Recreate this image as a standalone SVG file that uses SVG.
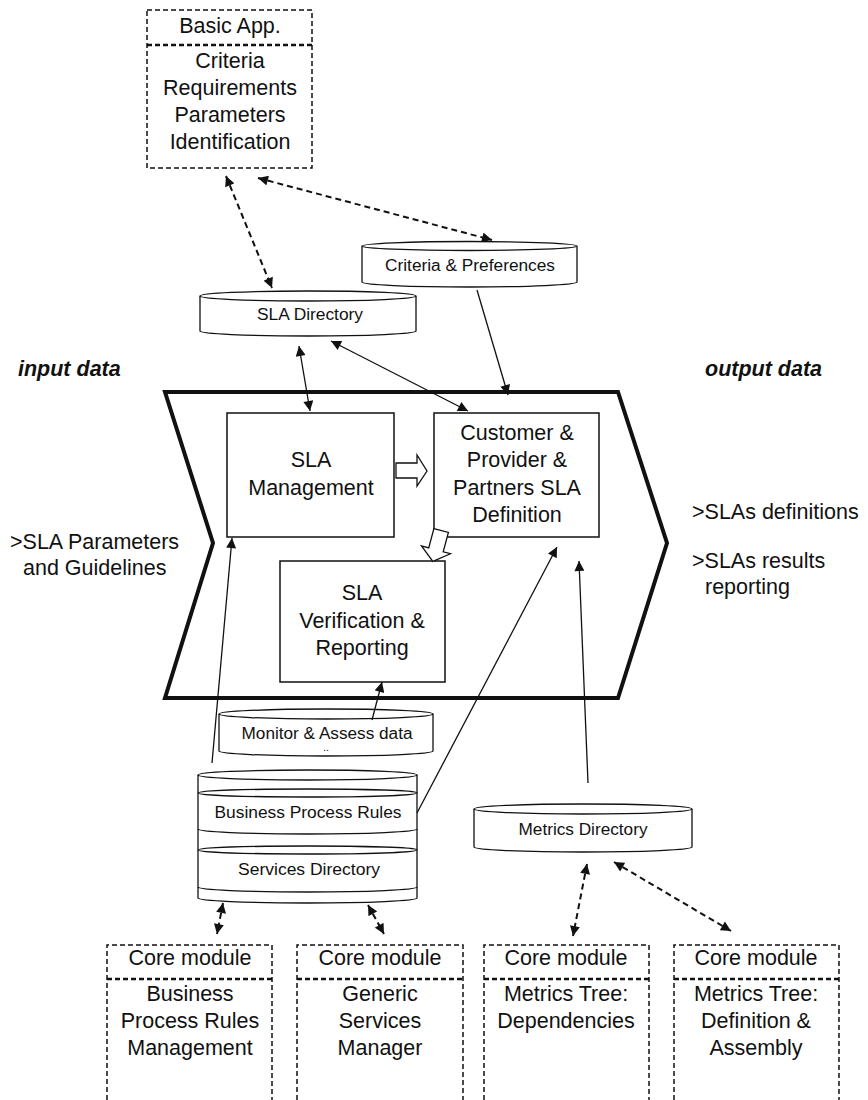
<svg xmlns="http://www.w3.org/2000/svg" width="868" height="1100" viewBox="0 0 868 1100">
  <style>
    .lbl { font-family: "Liberation Sans", Arial, sans-serif; font-size: 21.5px; fill: #111; text-anchor: middle; }
    .side { font-family: "Liberation Sans", Arial, sans-serif; font-size: 21.5px; fill: #111; }
    .head { font-family: "Liberation Sans", Arial, sans-serif; font-size: 21.5px; font-weight: bold; font-style: italic; fill: #111; }
    .db { font-family: "Liberation Sans", Arial, sans-serif; font-size: 16px; fill: #111; text-anchor: middle; }
    .box { fill: #fff; stroke: #111; stroke-width: 1.5; }
    .dash { fill: none; stroke: #111; stroke-width: 1.5; stroke-dasharray: 5 3; }
    .sep { fill: none; stroke: #111; stroke-width: 2.5; stroke-dasharray: 5 3; }
    .cyl { fill: #fff; stroke: #111; stroke-width: 1.3; }
    .wire { fill: none; stroke: #111; stroke-width: 1.3; }
    .dwire { fill: none; stroke: #111; stroke-width: 2; stroke-dasharray: 6 4; }
  </style>
  <defs>
    <marker id="ah" viewBox="0 0 10 10" refX="10" refY="5" markerUnits="userSpaceOnUse" markerWidth="11" markerHeight="10" orient="auto-start-reverse">
      <path d="M0,0 L10,5 L0,10 z" fill="#111"/>
    </marker>
  </defs>

  <rect width="868" height="1100" fill="#fff"/>

  <!-- process chevron -->
  <g id="process">
    <polygon points="165,392 618,392 667,543 618,698 165,698 213,543" fill="none" stroke="#111" stroke-width="4" stroke-linejoin="miter"/>
  </g>

  <!-- side labels -->
  <g id="input-data">
    <text class="head" x="18" y="376">input data</text>
    <text class="side" x="10" y="549">&gt;SLA Parameters</text>
    <text class="side" x="23" y="575">and Guidelines</text>
  </g>
  <g id="output-data">
    <text class="head" x="705" y="376">output data</text>
    <text class="side" x="692" y="519">&gt;SLAs definitions</text>
    <text class="side" x="692" y="568">&gt;SLAs results</text>
    <text class="side" x="705" y="594">reporting</text>
  </g>

  <!-- basic application -->
  <g id="basic-app">
    <rect class="dash" x="147" y="10" width="165" height="158"/>
    <line class="sep" x1="147" y1="45" x2="312" y2="45"/>
    <text class="lbl" x="230" y="33">Basic App.</text>
    <text class="lbl" x="230" y="68">Criteria</text>
    <text class="lbl" x="230" y="95">Requirements</text>
    <text class="lbl" x="230" y="122">Parameters</text>
    <text class="lbl" x="230" y="149">Identification</text>
  </g>

  <!-- repositories -->
  <g id="sla-directory">
    <path class="cyl" d="M200,296 v35 a108,5 0 0 0 216,0 v-35"/>
    <ellipse class="cyl" cx="308" cy="296" rx="108" ry="5"/>
    <text class="db" x="310" y="320" textLength="106" lengthAdjust="spacingAndGlyphs">SLA Directory</text>
  </g>
  <g id="criteria-preferences">
    <path class="cyl" d="M362,246 v36 a107.5,5 0 0 0 215,0 v-36"/>
    <ellipse class="cyl" cx="469.5" cy="246" rx="107.5" ry="4.5"/>
    <text class="db" x="470" y="271" textLength="170" lengthAdjust="spacingAndGlyphs">Criteria &amp; Preferences</text>
  </g>
  <g id="monitor-assess">
    <path class="cyl" d="M219,714 v37 a107,5 0 0 0 214,0 v-37"/>
    <ellipse class="cyl" cx="326" cy="714" rx="107" ry="5"/>
    <text class="db" x="327" y="739" textLength="171" lengthAdjust="spacingAndGlyphs">Monitor &amp; Assess data</text>
    <text class="db" x="326" y="751" style="font-size:11px">..</text>
  </g>
  <g id="process-services-store">
    <path class="cyl" d="M198,775 V898 a109.5,5 0 0 0 219,0 V775"/>
    <ellipse class="cyl" cx="307.5" cy="775" rx="109.5" ry="5"/>
    <ellipse class="cyl" cx="307.5" cy="793" rx="109.5" ry="4"/>
    <path class="wire" d="M198,829 a109.5,5 0 0 0 219,0"/>
    <ellipse class="cyl" cx="307.5" cy="850" rx="109.5" ry="4"/>
    <path class="wire" d="M198,887 a109.5,5 0 0 0 219,0"/>
    <text class="db" x="308" y="818" textLength="187" lengthAdjust="spacingAndGlyphs">Business Process Rules</text>
    <text class="db" x="309" y="875" textLength="142" lengthAdjust="spacingAndGlyphs">Services Directory</text>
  </g>
  <g id="metrics-directory">
    <path class="cyl" d="M474,809 v38 a109,5 0 0 0 218,0 v-38"/>
    <ellipse class="cyl" cx="583" cy="809" rx="109" ry="5"/>
    <text class="db" x="583" y="835" textLength="129" lengthAdjust="spacingAndGlyphs">Metrics Directory</text>
  </g>

  <!-- process steps -->
  <g id="sla-management">
    <rect class="box" x="227" y="413" width="167" height="124"/>
    <text class="lbl" x="311" y="467">SLA</text>
    <text class="lbl" x="311" y="495">Management</text>
  </g>
  <g id="sla-definition">
    <rect class="box" x="434" y="413" width="165" height="124"/>
    <text class="lbl" x="517" y="440">Customer &amp;</text>
    <text class="lbl" x="517" y="467">Provider &amp;</text>
    <text class="lbl" x="517" y="495">Partners SLA</text>
    <text class="lbl" x="517" y="522">Definition</text>
  </g>
  <g id="sla-verification">
    <rect class="box" x="280" y="561" width="165" height="121"/>
    <text class="lbl" x="362" y="600">SLA</text>
    <text class="lbl" x="362" y="628">Verification &amp;</text>
    <text class="lbl" x="362" y="655">Reporting</text>
  </g>

  <!-- core modules -->
  <g id="core-bpr">
    <path class="dash" d="M107,1100 V945 H272 V1100"/>
    <line class="sep" x1="107" y1="979" x2="272" y2="979"/>
    <text class="lbl" x="190" y="965">Core module</text>
    <text class="lbl" x="190" y="1001">Business</text>
    <text class="lbl" x="190" y="1028">Process Rules</text>
    <text class="lbl" x="190" y="1055">Management</text>
  </g>
  <g id="core-services">
    <path class="dash" d="M297,1100 V945 H463 V1100"/>
    <line class="sep" x1="297" y1="979" x2="463" y2="979"/>
    <text class="lbl" x="380" y="965">Core module</text>
    <text class="lbl" x="380" y="1001">Generic</text>
    <text class="lbl" x="380" y="1028">Services</text>
    <text class="lbl" x="380" y="1055">Manager</text>
  </g>
  <g id="core-dependencies">
    <path class="dash" d="M484,1100 V945 H649 V1100"/>
    <line class="sep" x1="484" y1="979" x2="649" y2="979"/>
    <text class="lbl" x="566" y="965">Core module</text>
    <text class="lbl" x="566" y="1001">Metrics Tree:</text>
    <text class="lbl" x="566" y="1028">Dependencies</text>
  </g>
  <g id="core-assembly">
    <path class="dash" d="M674,1100 V945 H839 V1100"/>
    <line class="sep" x1="674" y1="979" x2="839" y2="979"/>
    <text class="lbl" x="756" y="965">Core module</text>
    <text class="lbl" x="756" y="1001">Metrics Tree:</text>
    <text class="lbl" x="756" y="1028">Definition &amp;</text>
    <text class="lbl" x="756" y="1055">Assembly</text>
  </g>

  <!-- connectors -->
  <g id="connectors">
    <line class="dwire" x1="226" y1="176" x2="272" y2="288" marker-start="url(#ah)" marker-end="url(#ah)"/>
    <line class="dwire" x1="258" y1="178" x2="492" y2="240" marker-start="url(#ah)" marker-end="url(#ah)"/>
    <line class="wire" x1="299" y1="346" x2="310" y2="411" marker-start="url(#ah)" marker-end="url(#ah)"/>
    <line class="wire" x1="331" y1="341" x2="468" y2="411" marker-start="url(#ah)" marker-end="url(#ah)"/>
    <line class="wire" x1="477" y1="290" x2="508" y2="395" marker-end="url(#ah)"/>
    <line class="wire" x1="212" y1="763" x2="232" y2="538" marker-end="url(#ah)"/>
    <line class="wire" x1="417" y1="813" x2="557" y2="547" marker-end="url(#ah)"/>
    <line class="wire" x1="588" y1="783" x2="579" y2="561" marker-end="url(#ah)"/>
    <line class="wire" x1="372" y1="720" x2="382" y2="682" marker-end="url(#ah)"/>
    <line class="dwire" x1="223" y1="903" x2="217" y2="934" marker-start="url(#ah)" marker-end="url(#ah)"/>
    <line class="dwire" x1="368" y1="905" x2="384" y2="934" marker-start="url(#ah)" marker-end="url(#ah)"/>
    <line class="dwire" x1="587" y1="864" x2="573" y2="936" marker-start="url(#ah)" marker-end="url(#ah)"/>
    <line class="dwire" x1="614" y1="862" x2="731" y2="931" marker-start="url(#ah)" marker-end="url(#ah)"/>
    <!-- hollow block arrows between steps -->
    <polygon points="396,463 417,463 417,455 427,471 417,486 417,478 396,478" fill="#fff" stroke="#111" stroke-width="1.3"/>
    <polygon transform="translate(437,546) rotate(15)" points="-7.5,-16 7.5,-16 7.5,4 15,4 0,16 -15,4 -7.5,4" fill="#fff" stroke="#111" stroke-width="1.3"/>
  </g>
</svg>
